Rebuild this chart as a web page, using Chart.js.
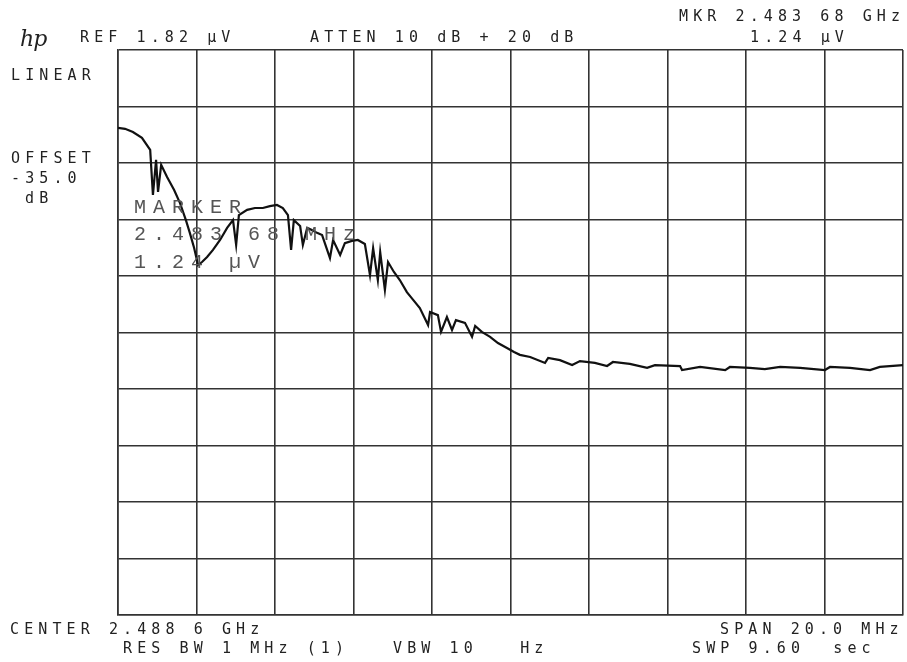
<!DOCTYPE html>
<html>
<head>
<meta charset="utf-8">
<script src="https://cdn.jsdelivr.net/npm/chart.js"></script>
<style>
    body { margin: 0; background: #fff; }
    #wrap { position: relative; width: 907px; height: 662px; }
    #wrap canvas { position: absolute; left: 0; top: 0; }
    .lbl {
        position: absolute;
        font-family: "DejaVu Sans Mono", monospace;
        font-size: 15px;
        letter-spacing: 5.1px;
        color: #222;
        white-space: pre;
        line-height: 15px;
    }
    .mk {
        position: absolute;
        font-family: "Liberation Mono", monospace;
        font-size: 20px;
        letter-spacing: 7px;
        color: #555;
        white-space: pre;
        line-height: 20px;
    }
    .hp {
        position: absolute;
        left: 20px; top: 26px;
        font-family: "DejaVu Serif", serif;
        font-style: italic;
        font-size: 22px;
        color: #222;
        letter-spacing: -1px;
    }
</style>
</head>
<body>
<div id="wrap">
    <canvas id="myChart" width="907" height="662"></canvas>
    <div class="hp">hp</div>
    <div class="lbl" style="left:80px; top:30px;">REF 1.82 µV</div>
    <div class="lbl" style="left:310px; top:30px;">ATTEN 10 dB + 20 dB</div>
    <div class="lbl" style="left:679px; top:9px;">MKR 2.483 68 GHz</div>
    <div class="lbl" style="left:750px; top:30px;">1.24 µV</div>
    <div class="lbl" style="left:11px; top:68px;">LINEAR</div>
    <div class="lbl" style="left:11px; top:151px;">OFFSET</div>
    <div class="lbl" style="left:11px; top:171px;">-35.0</div>
    <div class="lbl" style="left:25px; top:191px;">dB</div>
    <div class="mk" style="left:134px; top:198px;">MARKER</div>
    <div class="mk" style="left:134px; top:225px;">2.483 68 MHz</div>
    <div class="mk" style="left:134px; top:253px;">1.24 µV</div>
    <div class="lbl" style="left:10px; top:622px;">CENTER 2.488 6 GHz</div>
    <div class="lbl" style="left:123px; top:641px;">RES BW 1 MHz (1)</div>
    <div class="lbl" style="left:393px; top:641px;">VBW 10   Hz</div>
    <div class="lbl" style="left:720px; top:622px;">SPAN 20.0 MHz</div>
    <div class="lbl" style="left:692px; top:641px;">SWP 9.60  sec</div>
</div>

<script>
    // frequency in MHz, amplitude in µV (linear, 0.182 µV / div)
    const freqMHz = [
        2478.60, 2478.78, 2478.98, 2479.21, 2479.42, 2479.49, 2479.57, 2479.62, 2479.70, 2479.85,
        2480.03, 2480.18, 2480.33, 2480.43, 2480.54, 2480.64, 2480.74, 2480.87, 2481.02, 2481.20,
        2481.38, 2481.53, 2481.61, 2481.68, 2481.89, 2482.09, 2482.29, 2482.47, 2482.65, 2482.80,
        2482.93, 2483.01, 2483.08, 2483.24, 2483.31, 2483.42, 2483.54, 2483.67, 2483.80, 2484.00,
        2484.08, 2484.26, 2484.38, 2484.56, 2484.71, 2484.89, 2485.02, 2485.10, 2485.22, 2485.28,
        2485.40, 2485.48, 2485.63, 2485.78, 2485.96, 2486.12, 2486.29, 2486.50, 2486.55, 2486.75,
        2486.83, 2486.98, 2487.11, 2487.21, 2487.44, 2487.62, 2487.70, 2487.87, 2488.08, 2488.28,
        2488.51, 2488.69, 2488.84, 2489.10, 2489.48, 2489.56, 2489.86, 2490.17, 2490.37, 2490.75,
        2491.06, 2491.21, 2491.64, 2492.08, 2492.28, 2492.92, 2492.97, 2493.43, 2494.07, 2494.19,
        2494.70, 2495.08, 2495.47, 2495.98, 2496.61, 2496.74, 2497.25, 2497.76, 2498.01, 2498.60
    ]
    const levelUV = [
        1.569, 1.566, 1.556, 1.537, 1.498, 1.353, 1.466, 1.363, 1.450, 1.411,
        1.369, 1.327, 1.272, 1.231, 1.182, 1.127, 1.137, 1.153, 1.176, 1.208,
        1.247, 1.272, 1.192, 1.288, 1.305, 1.311, 1.311, 1.317, 1.321, 1.311,
        1.288, 1.176, 1.272, 1.253, 1.192, 1.247, 1.240, 1.231, 1.224, 1.150,
        1.208, 1.160, 1.198, 1.205, 1.208, 1.195, 1.095, 1.182, 1.079, 1.169,
        1.047, 1.137, 1.105, 1.079, 1.040, 1.015, 0.989, 0.934, 0.976, 0.966,
        0.912, 0.960, 0.918, 0.950, 0.941, 0.896, 0.931, 0.912, 0.896, 0.876,
        0.860, 0.847, 0.838, 0.831, 0.812, 0.828, 0.821, 0.805, 0.818, 0.812,
        0.802, 0.815, 0.809, 0.796, 0.805, 0.802, 0.789, 0.799, 0.789, 0.799,
        0.796, 0.792, 0.799, 0.796, 0.789, 0.799, 0.796, 0.789, 0.799, 0.805
    ]
    // graticule: 10 x 10 divisions
    const xGrid = [2478.6, 2480.6, 2482.6, 2484.6, 2486.6, 2488.6, 2490.6, 2492.6, 2494.6, 2496.6, 2498.6]
    const yGrid = [0, 0.182, 0.364, 0.546, 0.728, 0.910, 1.092, 1.274, 1.456, 1.638, 1.82]

    const points = freqMHz.map((f, i) => ({ x: f, y: levelUV[i] }))
    const gridStyle = { color: '#333', lineWidth: 1.6, drawTicks: false }

    new Chart(document.getElementById('myChart'), {
        type: 'line',
        data: {
            datasets: [{
                data: points,
                borderColor: '#111',
                borderWidth: 2.2,
                pointRadius: 0,
                tension: 0,
                fill: false
            }]
        },
        options: {
            responsive: false,
            animation: false,
            events: [],
            layout: { padding: { left: 118, top: 50, right: 4, bottom: 47 } },
            plugins: { legend: { display: false }, tooltip: { enabled: false } },
            scales: {
                x: {
                    type: 'linear',
                    min: xGrid[0],
                    max: xGrid[xGrid.length - 1],
                    afterBuildTicks: s => { s.ticks = xGrid.map(v => ({ value: v })) },
                    ticks: { display: false },
                    grid: gridStyle,
                    border: { color: '#333', width: 1.6 }
                },
                y: {
                    min: yGrid[0],
                    max: yGrid[yGrid.length - 1],
                    afterBuildTicks: s => { s.ticks = yGrid.map(v => ({ value: v })) },
                    ticks: { display: false },
                    grid: gridStyle,
                    border: { color: '#333', width: 1.6 }
                }
            }
        }
    })
</script>
</body>
</html>
